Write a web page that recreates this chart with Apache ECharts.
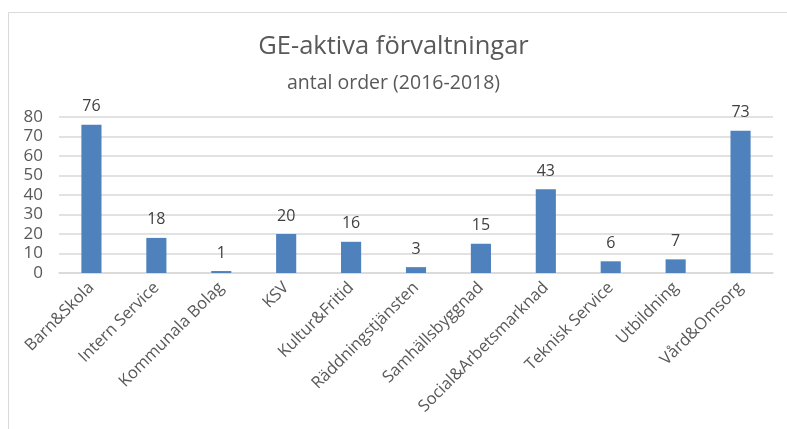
<!DOCTYPE html>
<html><head><meta charset="utf-8">
<script src="https://cdn.jsdelivr.net/npm/echarts@6/dist/echarts.min.js"></script>
<style>html,body{margin:0;padding:0;background:#fff}#c{width:787px;height:429px}</style>
</head><body><div id="c"></div>
<script>
const categories = ["Barn&Skola","Intern Service","Kommunala Bolag","KSV","Kultur&Fritid","Räddningstjänsten","Samhällsbyggnad","Social&Arbetsmarknad","Teknisk Service","Utbildning","Vård&Omsorg"];
const values = [76,18,1,20,16,3,15,43,6,7,73];
const titleText = "GE-aktiva förvaltningar";
const subtitleText = "antal order (2016-2018)";
const yMin = 0, yMax = 80, yStep = 10;

const font = "'Open Sans', 'Noto Sans', sans-serif";
const chart = echarts.init(document.getElementById('c'));
chart.setOption({
  animation: false,
  title: {
    text: titleText,
    subtext: subtitleText,
    left: 'center',
    top: 29,
    itemGap: 13,
    textStyle: {fontFamily: font, fontSize: 25.5, fontWeight: 'normal', color: '#595959'},
    subtextStyle: {fontFamily: font, fontSize: 19.5, color: '#595959'}
  },
  graphic: [
    {type: 'line', shape: {x1: 8.5, y1: 12.5, x2: 787, y2: 12.5}, style: {stroke: '#d9d9d9', lineWidth: 1}},
    {type: 'line', shape: {x1: 8.5, y1: 12.5, x2: 8.5, y2: 429}, style: {stroke: '#d9d9d9', lineWidth: 1}}
  ],
  grid: {left: 59, right: 14, top: 117, bottom: 156, containLabel: false},
  xAxis: {
    type: 'category',
    data: categories,
    axisLine: {show: true, lineStyle: {color: '#d9d9d9', width: 1.5}},
    axisTick: {show: false},
    axisLabel: {rotate: 45, interval: 0, fontFamily: font, fontSize: 16.5, color: '#595959', margin: 12}
  },
  yAxis: {
    type: 'value',
    min: yMin, max: yMax, interval: yStep,
    axisLine: {show: false},
    axisTick: {show: false},
    splitLine: {lineStyle: {color: '#d9d9d9', width: 1.5}},
    axisLabel: {fontFamily: font, fontSize: 17, color: '#595959', margin: 16}
  },
  series: [{
    type: 'bar',
    data: values,
    barWidth: '31%',
    itemStyle: {color: '#4f81bd'},
    label: {show: true, position: 'top', distance: 10, fontFamily: font, fontSize: 16, color: '#404040'}
  }]
});
</script></body></html>
